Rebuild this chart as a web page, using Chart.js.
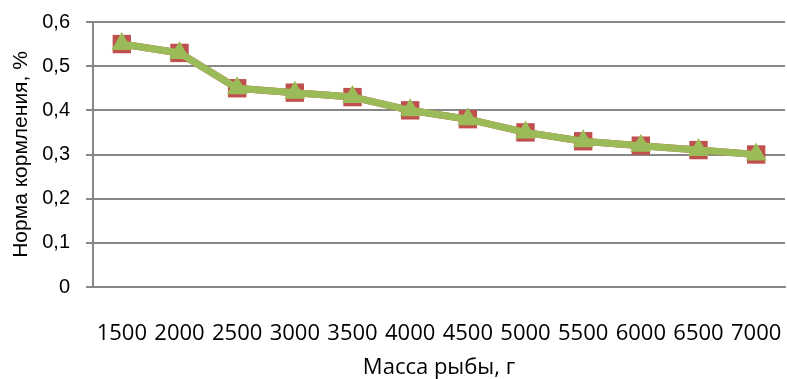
<!DOCTYPE html>
<html>
<head>
<meta charset="utf-8">
<script src="https://cdn.jsdelivr.net/npm/chart.js@4/dist/chart.umd.min.js"></script>
<style>
html,body{margin:0;padding:0;background:#fff;}
#wrap{width:787px;height:379px;position:relative;}
</style>
</head>
<body>
<div id="wrap"><canvas id="c" width="787" height="379"></canvas></div>
<script>
const categories = ["1500","2000","2500","3000","3500","4000","4500","5000","5500","6000","6500","7000"];
const seriesSquares = [0.55,0.53,0.45,0.44,0.43,0.40,0.38,0.35,0.33,0.32,0.31,0.30];
const seriesTriangles = [0.55,0.53,0.45,0.44,0.43,0.40,0.38,0.35,0.33,0.32,0.31,0.30];
const yTicks = [0,0.1,0.2,0.3,0.4,0.5,0.6];
const xTitle = "Масса рыбы, г";
const yTitle = "Норма кормления, %";

const gridColor = "#878787";
const chart = new Chart(document.getElementById("c"), {
  type: "line",
  data: {
    labels: categories,
    datasets: [
      {
        data: seriesSquares,
        borderColor: "#C0504D",
        backgroundColor: "#C0504D",
        borderWidth: 7,
        pointStyle: "rect",
        pointRadius: 13,
        pointBorderWidth: 0,
        pointBorderColor: "#C0504D",
        pointBackgroundColor: "#C0504D",
        order: 1,
        tension: 0
      },
      {
        data: seriesTriangles,
        borderColor: "#9BBB59",
        backgroundColor: "#9BBB59",
        borderWidth: 7,
        pointStyle: "triangle",
        pointRadius: 12,
        pointBorderWidth: 0,
        pointBorderColor: "#9BBB59",
        pointBackgroundColor: "#9BBB59",
        order: 0,
        tension: 0
      }
    ]
  },
  options: {
    responsive: false,
    animation: false,
    layout: { autoPadding: false, padding: { left: 9, right: 2, top: 22, bottom: 0 } },
    plugins: { legend: { display: false }, tooltip: { enabled: false } },
    scales: {
      x: {
        offset: true,
        grid: { display: false, drawTicks: false },
        border: { display: true, color: gridColor, width: 2 },
        ticks: {
          color: "#000",
          padding: 34,
          maxRotation: 0,
          autoSkip: false,
          font: { family: "Open Sans", size: 22 }
        },
        title: {
          display: true,
          text: xTitle,
          color: "#000",
          padding: { top: 0, bottom: 0 },
          font: { family: "Open Sans", size: 22, lineHeight: 1 }
        },
        afterFit: (s) => { s.height = 92; s.paddingLeft = 0; s.paddingRight = 0; }
      },
      y: {
        min: 0,
        max: 0.6,
        afterBuildTicks: (s) => { s.ticks = yTicks.map(v => ({ value: v })); },
        grid: { color: gridColor, lineWidth: 2, drawTicks: true, tickLength: 7, tickColor: gridColor },
        border: { display: true, color: gridColor, width: 2 },
        ticks: {
          color: "#000",
          padding: 16,
          font: { family: "Liberation Sans", size: 20 },
          callback: (v) => String(Math.round(v * 10) / 10).replace(".", ",")
        },
        title: {
          display: true,
          text: yTitle,
          color: "#000",
          padding: { top: 0, bottom: 0 },
          font: { family: "Liberation Sans", size: 21 }
        },
        afterFit: (s) => { s.width = 84; s.paddingTop = 0; s.paddingBottom = 0; }
      }
    }
  }
});
</script>
</body>
</html>
